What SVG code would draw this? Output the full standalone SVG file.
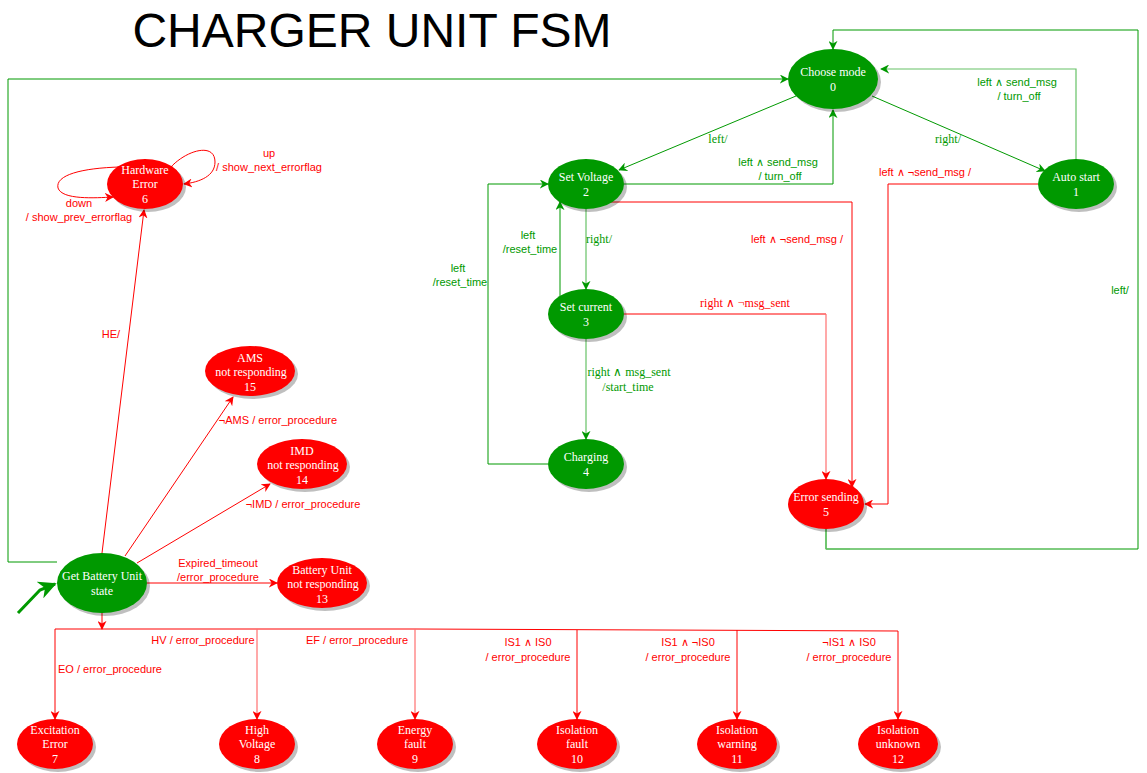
<svg xmlns="http://www.w3.org/2000/svg" width="1147" height="773" viewBox="0 0 1147 773">
<style>
.g{fill:#009900}.r{fill:#ff0000}.sh{fill:#000;opacity:.25}
.nt{font-family:"Liberation Serif",serif;font-size:12px;fill:#fff;text-anchor:middle}
.lg{stroke:#009900;fill:none;stroke-width:1}
.lr{stroke:#ff0000;fill:none;stroke-width:1}
.lgl{stroke:#66c266;fill:none;stroke-width:1.2}
.lrl{stroke:#ff7070;fill:none;stroke-width:1.2}
.sg{font-family:"Liberation Sans",Arial,sans-serif;font-size:11px;fill:#009900;text-anchor:middle}
.sr{font-family:"Liberation Sans",Arial,sans-serif;font-size:11px;fill:#ff0000;text-anchor:middle}
.fg{font-family:"Liberation Serif",serif;font-size:12px;fill:#009900;text-anchor:middle}
.fr{font-family:"Liberation Serif",serif;font-size:12px;fill:#ff0000;text-anchor:middle}
</style>
<defs>
<marker id="ag" viewBox="0 0 10 10" refX="9" refY="5" markerWidth="9" markerHeight="9" markerUnits="userSpaceOnUse" orient="auto"><path d="M0,0 L10,5 L0,10 L3,5 z" fill="#009900"/></marker>
<marker id="ar" viewBox="0 0 10 10" refX="9" refY="5" markerWidth="9" markerHeight="9" markerUnits="userSpaceOnUse" orient="auto"><path d="M0,0 L10,5 L0,10 L3,5 z" fill="#ff0000"/></marker>
<marker id="ab" viewBox="0 0 10 10" refX="9" refY="5" markerWidth="18" markerHeight="18" markerUnits="userSpaceOnUse" orient="auto"><path d="M0,0 L10,5 L0,10 L3,5 z" fill="#009900"/></marker>
</defs>
<rect width="1147" height="773" fill="#fff"/>
<text x="372" y="47" font-family="Liberation Sans,Arial,sans-serif" font-size="48" text-anchor="middle" fill="#000">CHARGER UNIT FSM</text>

<g id="connectors">
<!-- 0 -> 2 -->
<path class="lg" d="M796,96 L619,170" marker-end="url(#ag)"/>
<text class="fg" x="718" y="143">left/</text>
<!-- 0 -> 1 -->
<path class="lg" d="M872,96 L1045,171" marker-end="url(#ag)"/>
<text class="fg" x="948" y="143">right/</text>
<!-- 1 -> 0 -->
<path class="lgl" d="M1076,159 L1076,69 L881,69" marker-end="url(#ag)"/>
<text class="sg" x="1017" y="86">left ∧ send_msg</text>
<text class="sg" x="1019" y="100">/ turn_off</text>
<!-- 2 -> 0 -->
<path class="lg" d="M624,184 L833,184 L833,110" marker-end="url(#ag)"/>
<text class="sg" x="778" y="166">left ∧ send_msg</text>
<text class="sg" x="780" y="180">/ turn_off</text>
<!-- 5 -> 0 -->
<path class="lg" d="M826,529 L826,549 L1138,549 L1138,30 L833,30 L833,49" marker-end="url(#ag)"/>
<path class="lgl" d="M826,529 L826,549 L850,549"/>
<text class="sg" x="1120" y="294">left/</text>
<!-- 2 -> 5 -->
<path class="lr" d="M606,202 L852,202 L852,487" marker-end="url(#ar)"/>
<text class="sr" x="797" y="243">left ∧ ¬send_msg /</text>
<!-- 1 -> 5 -->
<path class="lr" d="M1038,184 L888,184 L888,504 L865,504" marker-end="url(#ar)"/>
<text class="sr" x="925" y="176">left ∧ ¬send_msg /</text>
<!-- 3 -> 5 -->
<path class="lr" d="M624,314 L826,314"/>
<path class="lrl" d="M826,314 L826,479" marker-end="url(#ar)"/>
<text class="fr" x="745" y="307">right ∧ ¬msg_sent</text>
<!-- 2 -> 3 -->
<path class="lgl" d="M586,209 L586,289" marker-end="url(#ag)"/>
<text class="fg" x="599" y="243">right/</text>
<!-- 3 -> 2 -->
<path class="lg" d="M560,296 L560,202" marker-end="url(#ag)"/>
<text class="sg" x="528" y="239">left</text>
<text class="sg" x="530" y="253">/reset_time</text>
<!-- 4 -> 2 -->
<path class="lg" d="M548,464 L488,464 L488,184 L548,184" marker-end="url(#ag)"/>
<text class="sg" x="458" y="272">left</text>
<text class="sg" x="460" y="286">/reset_time</text>
<!-- 3 -> 4 -->
<path class="lgl" d="M586,339 L586,439" marker-end="url(#ag)"/>
<text class="fg" x="629" y="376">right ∧ msg_sent</text>
<text class="fg" x="628" y="391">/start_time</text>
<!-- Get Battery -> 0 -->
<path class="lg" d="M57,562 L8,562 L8,79 L788,79" marker-end="url(#ag)"/>
<!-- initial -->
<path d="M18,613 L40,590 L55,584" stroke="#009900" stroke-width="3" fill="none" marker-end="url(#ab)"/>
<!-- GB -> HE -->
<path class="lr" d="M102,553 L144,210" marker-end="url(#ar)"/>
<text class="sr" x="111" y="338">HE/</text>
<!-- HE self loops -->
<path class="lr" d="M170,168 C186,150 215,142 215,162 C215,176 200,182 184,184" marker-end="url(#ar)"/>
<text class="sr" x="269" y="157">up</text>
<text class="sr" x="269" y="171">/ show_next_errorflag</text>
<path class="lr" d="M120,167 C82,168 55,175 58,188 C62,200 95,198 113,197" marker-end="url(#ar)"/>
<text class="sr" x="79" y="207">down</text>
<text class="sr" x="79" y="221">/ show_prev_errorflag</text>
<!-- GB -> AMS -->
<path class="lr" d="M125,556 L233,397" marker-end="url(#ar)"/>
<text class="sr" x="278" y="424">¬AMS / error_procedure</text>
<!-- GB -> IMD -->
<path class="lr" d="M137,563 L270,484" marker-end="url(#ar)"/>
<text class="sr" x="303" y="508">¬IMD / error_procedure</text>
<!-- GB -> 13 -->
<path class="lr" d="M147,583 L277,583" marker-end="url(#ar)"/>
<text class="sr" x="218" y="567">Expired_timeout</text>
<text class="sr" x="218" y="581">/error_procedure</text>
<!-- GB -> bus -->
<path class="lr" d="M102,613 L102,629" marker-end="url(#ar)"/>
<path class="lr" d="M55,629 L415,629 L898,631"/>
<path class="lr" d="M55,629 L55,719" marker-end="url(#ar)"/>
<path class="lrl" d="M257,629 L257,719" marker-end="url(#ar)"/>
<path class="lrl" d="M415,629 L415,719" marker-end="url(#ar)"/>
<path class="lr" d="M577,630 L577,719" marker-end="url(#ar)"/>
<path class="lr" d="M737,630 L737,719" marker-end="url(#ar)"/>
<path class="lr" d="M898,631 L898,719" marker-end="url(#ar)"/>
<text class="sr" x="110" y="673">EO / error_procedure</text>
<text class="sr" x="203" y="644">HV / error_procedure</text>
<text class="sr" x="357" y="644">EF / error_procedure</text>
<text class="sr" x="528" y="646">IS1 ∧ IS0</text>
<text class="sr" x="528" y="661">/ error_procedure</text>
<text class="sr" x="688" y="646">IS1 ∧ ¬IS0</text>
<text class="sr" x="688" y="661">/ error_procedure</text>
<text class="sr" x="849" y="646">¬IS1 ∧ IS0</text>
<text class="sr" x="849" y="661">/ error_procedure</text>
</g>

<g id="n0"><ellipse class="sh" cx="836" cy="82" rx="45" ry="30"/><ellipse class="g" cx="833" cy="79" rx="45" ry="30"/><text class="nt" x="833" y="76">Choose mode</text><text class="nt" x="833" y="91">0</text></g>
<g id="n1"><ellipse class="sh" cx="1079" cy="187" rx="38" ry="25"/><ellipse class="g" cx="1076" cy="184" rx="38" ry="25"/><text class="nt" x="1076" y="181">Auto start</text><text class="nt" x="1076" y="196">1</text></g>
<g id="n2"><ellipse class="sh" cx="589" cy="187" rx="38" ry="25"/><ellipse class="g" cx="586" cy="184" rx="38" ry="25"/><text class="nt" x="586" y="181">Set Voltage</text><text class="nt" x="586" y="196">2</text></g>
<g id="n3"><ellipse class="sh" cx="589" cy="317" rx="38" ry="25"/><ellipse class="g" cx="586" cy="314" rx="38" ry="25"/><text class="nt" x="586" y="311">Set current</text><text class="nt" x="586" y="326">3</text></g>
<g id="n4"><ellipse class="sh" cx="589" cy="467" rx="38" ry="25"/><ellipse class="g" cx="586" cy="464" rx="38" ry="25"/><text class="nt" x="586" y="461">Charging</text><text class="nt" x="586" y="476">4</text></g>
<g id="n5"><ellipse class="sh" cx="829" cy="507" rx="38" ry="25"/><ellipse class="r" cx="826" cy="504" rx="38" ry="25"/><text class="nt" x="826" y="501">Error sending</text><text class="nt" x="826" y="516">5</text></g>
<g id="n6"><ellipse class="sh" cx="148" cy="187" rx="38" ry="25"/><ellipse class="r" cx="145" cy="184" rx="38" ry="25"/><text class="nt" x="145" y="174">Hardware</text><text class="nt" x="145" y="188">Error</text><text class="nt" x="145" y="203">6</text></g>
<g id="n15"><ellipse class="sh" cx="253" cy="374" rx="45" ry="25"/><ellipse class="r" cx="250" cy="371" rx="45" ry="25"/><text class="nt" x="250" y="362">AMS</text><text class="nt" x="251" y="376">not responding</text><text class="nt" x="250" y="391">15</text></g>
<g id="n14"><ellipse class="sh" cx="305" cy="467" rx="45" ry="25"/><ellipse class="r" cx="302" cy="464" rx="45" ry="25"/><text class="nt" x="302" y="455">IMD</text><text class="nt" x="303" y="469">not responding</text><text class="nt" x="302" y="484">14</text></g>
<g id="nGB"><ellipse class="sh" cx="105" cy="586" rx="45" ry="30"/><ellipse class="g" cx="102" cy="583" rx="45" ry="30"/><text class="nt" x="102" y="580">Get Battery Unit</text><text class="nt" x="102" y="595">state</text></g>
<g id="n13"><ellipse class="sh" cx="325" cy="586" rx="45" ry="25"/><ellipse class="r" cx="322" cy="583" rx="45" ry="25"/><text class="nt" x="322" y="574">Battery Unit</text><text class="nt" x="323" y="588">not responding</text><text class="nt" x="322" y="603">13</text></g>
<g id="n7"><ellipse class="sh" cx="58" cy="747" rx="38" ry="25"/><ellipse class="r" cx="55" cy="744" rx="38" ry="25"/><text class="nt" x="55" y="734">Excitation</text><text class="nt" x="55" y="748">Error</text><text class="nt" x="55" y="763">7</text></g>
<g id="n8"><ellipse class="sh" cx="260" cy="747" rx="38" ry="25"/><ellipse class="r" cx="257" cy="744" rx="38" ry="25"/><text class="nt" x="257" y="734">High</text><text class="nt" x="257" y="748">Voltage</text><text class="nt" x="257" y="763">8</text></g>
<g id="n9"><ellipse class="sh" cx="418" cy="747" rx="38" ry="25"/><ellipse class="r" cx="415" cy="744" rx="38" ry="25"/><text class="nt" x="415" y="734">Energy</text><text class="nt" x="415" y="748">fault</text><text class="nt" x="415" y="763">9</text></g>
<g id="n10"><ellipse class="sh" cx="580" cy="747" rx="40" ry="25"/><ellipse class="r" cx="577" cy="744" rx="40" ry="25"/><text class="nt" x="577" y="734">Isolation</text><text class="nt" x="577" y="748">fault</text><text class="nt" x="577" y="763">10</text></g>
<g id="n11"><ellipse class="sh" cx="740" cy="747" rx="40" ry="25"/><ellipse class="r" cx="737" cy="744" rx="40" ry="25"/><text class="nt" x="737" y="734">Isolation</text><text class="nt" x="737" y="748">warning</text><text class="nt" x="737" y="763">11</text></g>
<g id="n12"><ellipse class="sh" cx="901" cy="747" rx="40" ry="25"/><ellipse class="r" cx="898" cy="744" rx="40" ry="25"/><text class="nt" x="898" y="734">Isolation</text><text class="nt" x="898" y="748">unknown</text><text class="nt" x="898" y="763">12</text></g>
</svg>
